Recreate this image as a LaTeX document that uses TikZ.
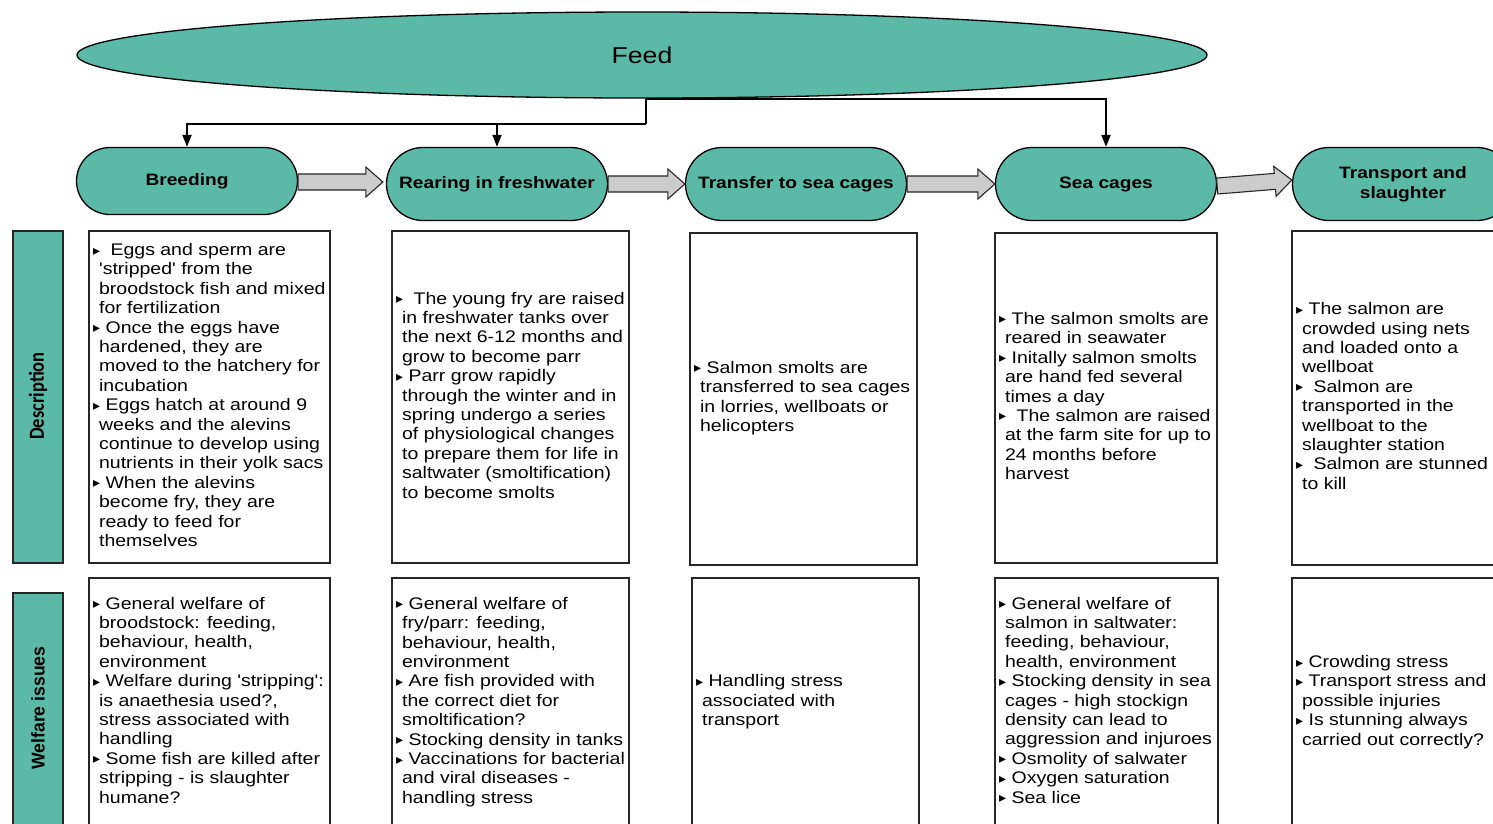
\documentclass[tikz,border=0pt]{standalone}
\usepackage{fontspec}
\setmainfont{Liberation Sans}[FakeStretch=1.16,Ligatures=TeXOff]
\newfontfamily\bulf{DejaVu Sans}
\newfontfamily\labf{Carlito}
\usetikzlibrary{shapes.geometric,shapes.misc,arrows.meta,calc}
\definecolor{teal1}{RGB}{91,185,167}
\definecolor{agray}{RGB}{204,204,204}
\newcommand\bl{\makebox[12.5pt][l]{\raisebox{0.5pt}{\bulf\fontsize{14}{14}\selectfont ▸}}}
\newcommand\ci{\hspace*{6pt}}
\newcommand\blockarrow[2]{%
 \coordinate (bas) at (#1);
 \coordinate (bae) at (#2);
 \coordinate (bab) at ($(bae)!17pt!(bas)$);
 \draw[barrow] ($(bas)!8pt!90:(bae)$) -- ($(bab)!8pt!-90:(bas)$) -- ($(bab)!15pt!-90:(bas)$) -- (bae) -- ($(bab)!15pt!90:(bas)$) -- ($(bab)!8pt!90:(bas)$) -- ($(bas)!8pt!-90:(bae)$) -- cycle;}
\tikzset{
  stage/.style={rounded rectangle, draw=black, line width=1.3pt, fill=teal1, minimum width=221pt, minimum height=73pt, inner sep=0pt, font=\bfseries\fontsize{16.5}{20}\selectfont, align=center},
  tbox/.style={draw=black!85, line width=1.2pt, fill=white, inner sep=0pt},
  txt/.style={anchor=west, inner sep=0pt, align=left, font=\fontsize{16.8}{19.4}\selectfont},
  lbar/.style={draw=black!85, line width=1.2pt, fill=teal1, inner sep=0pt, minimum width=50pt},
  conn/.style={line width=2pt, -{Triangle[length=12pt,width=9pt]}},
  barrow/.style={draw=black!85, line width=1.1pt, fill=agray, line join=miter}
}
\begin{document}
\begin{tikzpicture}[x=1pt,y=-1pt]
\useasboundingbox (0,0) rectangle (1493,823);
\clip (0,0) rectangle (1493,823);

% Feed
\node[ellipse, draw=black, line width=1.3pt, fill=teal1, minimum width=1130pt, minimum height=86pt, inner sep=0pt, font=\fontsize{23}{26}\selectfont] (feed) at (642,55) {Feed};

% stages
\node[stage, minimum height=67pt] (breed) at (187,181) {Breeding};
\node[stage] (rear) at (497,184) {Rearing in freshwater};
\node[stage] (trans) at (796,184) {Transfer to sea cages};
\node[stage] (sea) at (1106,184) {Sea cages};
\node[stage] (slaug) at (1403,184) {Transport and\\slaughter};

% feed connectors
\coordinate (j) at ($(feed.south)+(4,25)$);
\draw[line width=2pt] ($(feed.south)+(4,0)$) -- (j);
\draw[conn] (j) -| (breed.north);
\draw[conn] (j) -| (rear.north);
\draw[conn] ($(feed.south)+(4,0)$) -| (sea.north);

% block arrows
\blockarrow{$(breed.east)+(0,1)$}{$(rear.west)+(-3,-2)$}
\blockarrow{rear.east}{trans.west}
\blockarrow{trans.east}{sea.west}
\blockarrow{$(sea.east)+(0,2)$}{$(slaug.west)+(0,-4)$}

% label bars
\node[lbar, minimum height=332pt] (dbar) at (38,397) {};
\node[rotate=90, font=\labf\bfseries\fontsize{18.5}{20}\selectfont] (dlab) at (38,396) {\scalebox{1}[1.16]{Description}};
\node[lbar, minimum height=240pt] (wbar) at (38,713) {};
\node[rotate=90, font=\bfseries\fontsize{15.2}{18}\selectfont] (wlab) at (38,708) {\scalebox{1}[1.22]{Welfare issues}};

% description boxes
\node[tbox, minimum width=241pt, minimum height=332pt] (d1) at (209.5,397) {};
\node[tbox, minimum width=237pt, minimum height=332pt] (d2) at (510.5,397) {};
\node[tbox, minimum width=227pt, minimum height=332pt] (d3) at (803.5,399) {};
\node[tbox, minimum width=222pt, minimum height=330pt] (d4) at (1106,398) {};
\node[tbox, minimum width=228pt, minimum height=334pt] (d5) at (1406,398) {};

% welfare boxes
\node[tbox, minimum width=241pt, minimum height=250pt] (w1) at (209.5,703) {};
\node[tbox, minimum width=237pt, minimum height=250pt] (w2) at (510.5,703) {};
\node[tbox, minimum width=227pt, minimum height=250pt] (w3) at (805.5,703) {};
\node[tbox, minimum width=223pt, minimum height=250pt] (w4) at (1106.5,703) {};
\node[tbox, minimum width=228pt, minimum height=250pt] (w5) at (1406,703) {};

% description texts
\node[txt] (t1) at ($(d1.west)+(4.5,-2)$) {\bl\hspace{5pt}Eggs and sperm are\\
\ci'stripped' from the\\
\ci broodstock fish and mixed\\
\ci for fertilization\\
\bl Once the eggs have\\
\ci hardened, they are\\
\ci moved to the hatchery for\\
\ci incubation\\
\bl Eggs hatch at around 9\\
\ci weeks and the alevins\\
\ci continue to develop using\\
\ci nutrients in their yolk sacs\\
\bl When the alevins\\
\ci become fry, they are\\
\ci ready to feed for\\
\ci themselves};

\node[txt] (t2) at ($(d2.west)+(4.5,-2)$) {\bl\hspace{5pt}The young fry are raised\\
\ci in freshwater tanks over\\
\ci the next 6-12 months and\\
\ci grow to become parr\\
\bl Parr grow rapidly\\
\ci through the winter and in\\
\ci spring undergo a series\\
\ci of physiological changes\\
\ci to prepare them for life in\\
\ci saltwater (smoltification)\\
\ci to become smolts};

\node[txt] (t3) at ($(d3.west)+(4.5,-1)$) {\bl Salmon smolts are\\
\ci transferred to sea cages\\
\ci in lorries, wellboats or\\
\ci helicopters};

\node[txt] (t4) at ($(d4.west)+(4.5,-2)$) {\bl The salmon smolts are\\
\ci reared in seawater\\
\bl Initally salmon smolts\\
\ci are hand fed several\\
\ci times a day\\
\bl\hspace{5pt}The salmon are raised\\
\ci at the farm site for up to\\
\ci 24 months before\\
\ci harvest};

\node[txt] (t5) at ($(d5.west)+(4.5,-2)$) {\bl The salmon are\\
\ci crowded using nets\\
\ci and loaded onto a\\
\ci wellboat\\
\bl\hspace{5pt}Salmon are\\
\ci transported in the\\
\ci wellboat to the\\
\ci slaughter station\\
\bl\hspace{5pt}Salmon are stunned\\
\ci to kill};

% welfare texts
\node[txt] (u1) at ($(w1.west)+(4.5,-3)$) {\bl General welfare of\\
\ci broodstock: feeding,\\
\ci behaviour, health,\\
\ci environment\\
\bl Welfare during 'stripping':\\
\ci is anaethesia used?,\\
\ci stress associated with\\
\ci handling\\
\bl Some fish are killed after\\
\ci stripping - is slaughter\\
\ci humane?};

\node[txt] (u2) at ($(w2.west)+(4.5,-1)$) {\bl General welfare of\\
\ci fry/parr: feeding,\\
\ci behaviour, health,\\
\ci environment\\
\bl Are fish provided with\\
\ci the correct diet for\\
\ci smoltification?\\
\bl Stocking density in tanks\\
\bl Vaccinations for bacterial\\
\ci and viral diseases -\\
\ci handling stress};

\node[txt] (u3) at ($(w3.west)+(4.5,-1)$) {\bl Handling stress\\
\ci associated with\\
\ci transport};

\node[txt] (u4) at ($(w4.west)+(4.5,-3)$) {\bl General welfare of\\
\ci salmon in saltwater:\\
\ci feeding, behaviour,\\
\ci health, environment\\
\bl Stocking density in sea\\
\ci cages - high stockign\\
\ci density can lead to\\
\ci aggression and injuroes\\
\bl Osmolity of salwater\\
\bl Oxygen saturation\\
\bl Sea lice};

\node[txt] (u5) at ($(w5.west)+(4.5,-1)$) {\bl Crowding stress\\
\bl Transport stress and\\
\ci possible injuries\\
\bl Is stunning always\\
\ci carried out correctly?};
\end{tikzpicture}
\end{document}
